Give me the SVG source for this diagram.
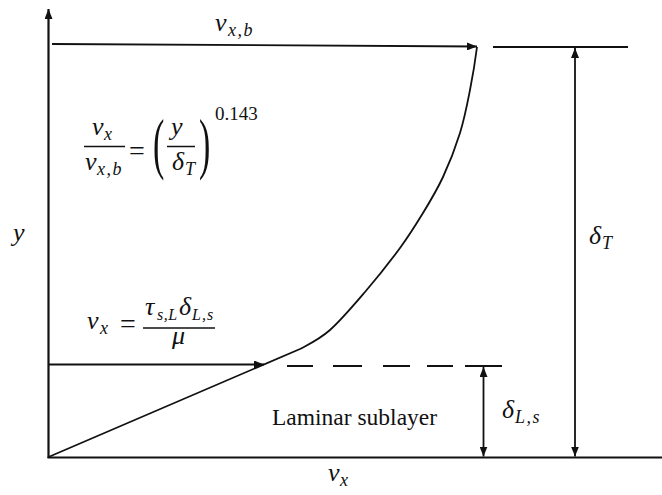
<svg xmlns="http://www.w3.org/2000/svg" width="662" height="495" viewBox="0 0 662 495">
<style>
.ln{stroke:#111;stroke-width:1.8;fill:none}
.ax{stroke:#111;stroke-width:2.2;fill:none}
.m{font-family:"Liberation Serif","Times New Roman",serif;font-style:italic;font-size:26px;fill:#111}
.s{font-family:"Liberation Serif","Times New Roman",serif;font-style:italic;font-size:18px;letter-spacing:1.5px;fill:#111}
.u{font-family:"Liberation Serif","Times New Roman",serif;font-size:28px;fill:#111}
.t{font-family:"Liberation Serif","Times New Roman",serif;font-size:23.5px;fill:#111}
</style>
<defs>
<marker id="ah" viewBox="0 0 10 8" refX="10" refY="4" markerWidth="10" markerHeight="8" markerUnits="userSpaceOnUse" orient="auto-start-reverse">
<path d="M0,0 L10,4 L0,8 z" fill="#111"/>
</marker>
</defs>
<rect width="662" height="495" fill="#fff"/>

<g id="axes">
<line class="ax" x1="48.5" y1="458" x2="48.5" y2="9" marker-end="url(#ah)"/>
<line class="ax" x1="47.5" y1="457.5" x2="662" y2="457.5"/>
</g>

<g id="connectors">
<line class="ln" x1="52" y1="44" x2="477" y2="46.5" marker-end="url(#ah)"/>
<line class="ln" x1="493" y1="47" x2="628" y2="47"/>
<line class="ln" x1="575" y1="48" x2="575" y2="456.5" marker-start="url(#ah)" marker-end="url(#ah)"/>
<line class="ln" x1="48" y1="364.5" x2="264" y2="364.5" marker-end="url(#ah)"/>
<path class="ln" d="M287,366 H313 M333,366 H362 M383,366 H410 M427,366 H453 M465,366 H502"/>
<line class="ln" x1="483.5" y1="367" x2="483.5" y2="456.5" marker-start="url(#ah)" marker-end="url(#ah)"/>
<path class="ln" d="M48.5,457 L300,349 C310,343.7 319.2,339.5 330,330 C340.8,320.5 353.3,305.7 365,292 C376.7,278.3 390.3,261.2 400,248 C409.7,234.8 415.8,224.8 423,213 C430.2,201.2 436.8,190.3 443,177 C449.2,163.7 455.5,147.5 460,133 C464.5,118.5 467.2,104.3 470,90 C472.8,75.7 475.2,61.2 477,47"/>
</g>

<g id="label-vxb">
<text class="m" x="215" y="31">v</text>
<text class="s" x="228" y="36">x,b</text>
</g>

<g id="eq-power">
<text class="m" x="92" y="135">v</text>
<text class="s" x="104" y="140">x</text>
<line class="ln" x1="84" y1="146.5" x2="125" y2="146.5" style="stroke-width:1.5"/>
<text class="m" x="85" y="170">v</text>
<text class="s" x="97" y="175">x,b</text>
<text class="u" x="129" y="160">=</text>
<text class="u" transform="translate(153,0) scale(1,2)" x="0" y="83" style="font-size:34px">(</text>
<text class="m" x="171" y="135">y</text>
<line class="ln" x1="167" y1="146.5" x2="195" y2="146.5" style="stroke-width:1.5"/>
<text class="m" x="172" y="170">δ</text>
<text class="s" x="185" y="175">T</text>
<text class="u" transform="translate(199,0) scale(1,2)" x="0" y="83" style="font-size:34px">)</text>
<text class="u" x="215" y="120" style="font-size:19px">0.143</text>
</g>

<g id="label-y">
<text class="m" x="13" y="241">y</text>
</g>

<g id="eq-laminar">
<text class="m" x="87" y="329">v</text>
<text class="s" x="100" y="334">x</text>
<text class="u" x="120" y="333">=</text>
<text class="m" x="145" y="315">τ</text>
<text class="s" x="157" y="320" style="font-size:16px;letter-spacing:0.5px">s,L</text>
<text class="m" x="179" y="315">δ</text>
<text class="s" x="192" y="320" style="font-size:16px;letter-spacing:1px">L,s</text>
<line class="ln" x1="143" y1="328" x2="215" y2="328" style="stroke-width:1.5"/>
<text class="m" x="172" y="344">μ</text>
</g>

<g id="label-laminar">
<text class="t" x="272" y="425">Laminar sublayer</text>
</g>

<g id="label-deltaLs">
<text class="m" x="502" y="418">δ</text>
<text class="s" x="515" y="423">L,s</text>
</g>

<g id="label-deltaT">
<text class="m" x="589" y="244">δ</text>
<text class="s" x="602" y="249">T</text>
</g>

<g id="label-vx">
<text class="m" x="328" y="481">v</text>
<text class="s" x="340" y="486">x</text>
</g>
</svg>
